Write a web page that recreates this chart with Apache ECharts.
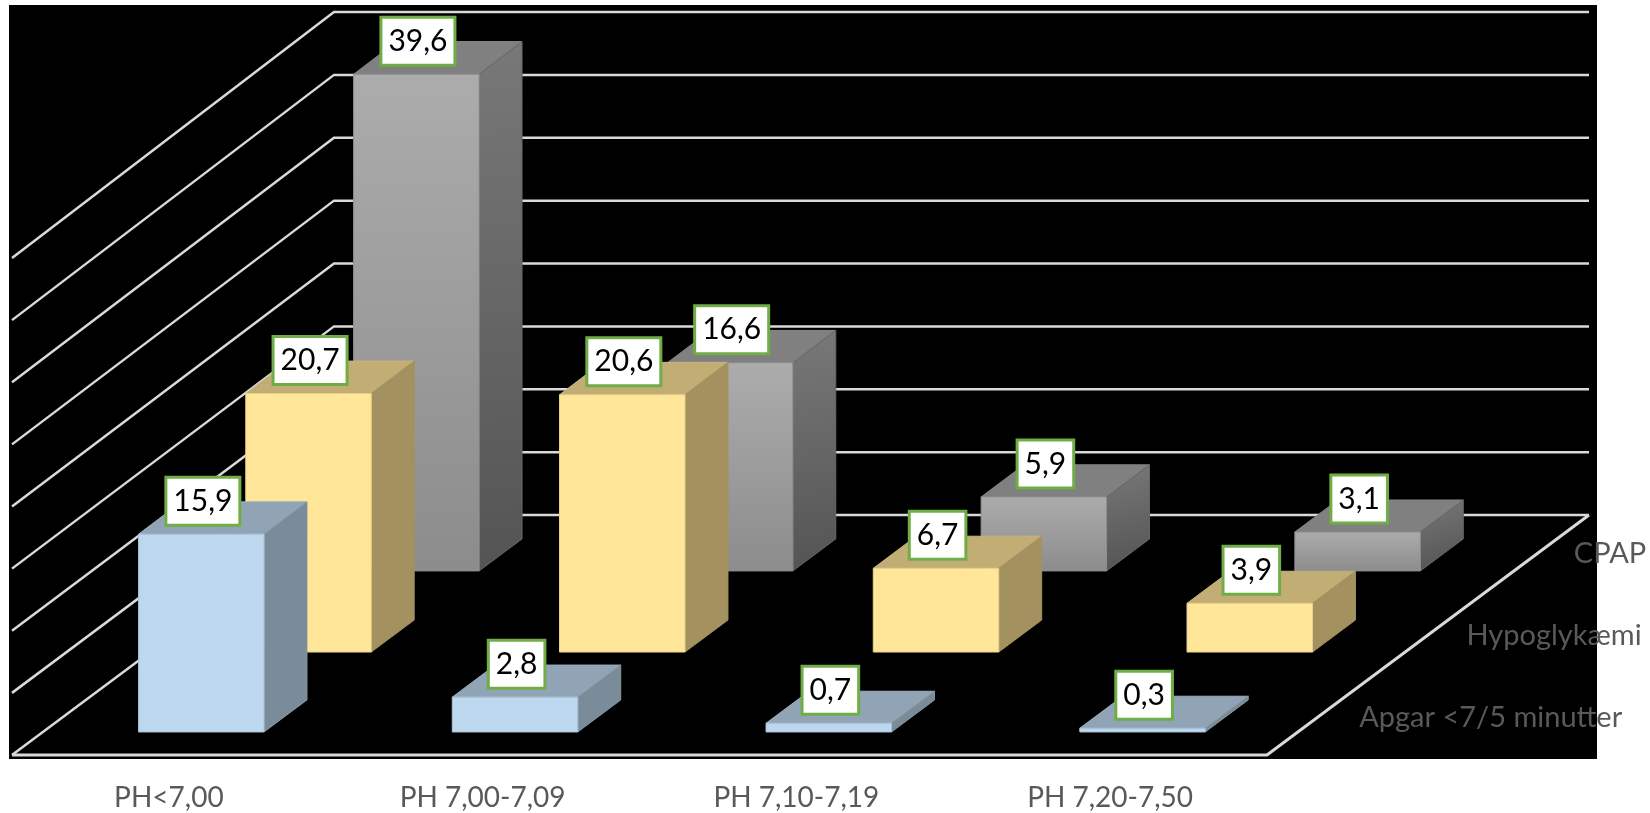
<!DOCTYPE html>
<html>
<head>
<meta charset="utf-8">
<style>html,body{margin:0;padding:0;background:#fff}#c{width:1650px;height:813px}</style>
<script src="https://cdn.jsdelivr.net/npm/echarts@6/dist/echarts.min.js"></script>
</head>
<body>
<div id="c"></div>
<script>
var categories = ['PH<7,00', 'PH 7,00-7,09', 'PH 7,10-7,19', 'PH 7,20-7,50'];
var depthNames = ['Apgar <7/5 minutter', 'Hypoglykæmi', 'CPAP'];
var apgar = [15.9, 2.8, 0.7, 0.3];
var hypoglykaemi = [20.7, 20.6, 6.7, 3.9];
var cpap = [39.6, 16.6, 5.9, 3.1];
var yTicks = [0, 5, 10, 15, 20, 25, 30, 35, 40];

var DX = 322, DY = 240, DYV = 0.15;
var ROW_FRONT = [0.096, 0.429, 0.767];
var ROW_NUDGE = [1.5, 1.5, 0.5];
var G = echarts.graphic;
var FONT = 'Lato';
function P(api, cat, frac, val, depth, nudge) {
  var c = api.coord([cat, val]);
  var band = api.size([1, 0])[0];
  return [c[0] + frac * band + depth * DX + (nudge || 0), c[1] - depth * (DY + val * DYV)];
}
function vGrad(a, b) { return new G.LinearGradient(0, 0, 0, 1, [{offset: 0, color: a}, {offset: 1, color: b}]); }
function dGrad(a, b) { return new G.LinearGradient(0, 0, 0.5, 1, [{offset: 0, color: a}, {offset: 1, color: b}]); }

function barSeries(name, values, row, look) {
  var d0 = ROW_FRONT[row], d1 = d0 + 0.4 / 3, n = ROW_NUDGE[row];
  return {
    type: 'custom', name: name, z: 3 + (2 - row),
    data: values.map(function (v, i) { return [i, v]; }),
    clip: false,
    renderItem: function (params, api) {
      var cat = api.value(0), v = api.value(1);
      var a = P(api, cat, -0.2, 0, d0, n), b = P(api, cat, 0.2, 0, d0, n),
          c = P(api, cat, 0.2, v, d0, n), e = P(api, cat, -0.2, v, d0, n),
          f = P(api, cat, 0.2, 0, d1, n), g = P(api, cat, 0.2, v, d1, n), h = P(api, cat, -0.2, v, d1, n);
      function poly(pts, fill, stroke) {
        return {type: 'polygon', shape: {points: pts}, style: {fill: fill, stroke: stroke, lineWidth: 1}};
      }
      return {type: 'group', children: [
        poly([e, c, g, h], look.top, look.topEdge),
        poly([b, f, g, c], look.side, look.sideEdge),
        poly([a, b, c, e], look.front, look.frontEdge)
      ]};
    }
  };
}

function labelSeries(values, row) {
  var d0 = ROW_FRONT[row], n = ROW_NUDGE[row];
  return {
    type: 'custom', z: 20, clip: false,
    data: values.map(function (v, i) { return [i, v]; }),
    renderItem: function (params, api) {
      var p = P(api, api.value(0), 0.005, api.value(1), d0, n);
      var txt = api.value(1).toFixed(1).replace('.', ',');
      return {type: 'text', x: p[0], y: p[1] - 33, style: {
        text: txt, fill: '#000', font: '30px ' + FONT, align: 'center', verticalAlign: 'middle',
        backgroundColor: '#fff', borderColor: '#70ad47', borderWidth: 3, padding: [8, 6, 7, 6]
      }};
    }
  };
}

var blueLook = {front: '#bdd7ee', frontEdge: '#a9c2d8', side: '#7a8b9a', sideEdge: '#86979f', top: '#91a4b5', topEdge: '#9aaebf'};
var yellowLook = {front: '#ffe699', frontEdge: '#e8d088', side: '#a3925f', sideEdge: '#a3925f', top: '#c2ae75', topEdge: '#c8b47c'};
var grayLook = {front: vGrad('#acacac', '#8c8c8c'), frontEdge: '#8f8f8f', side: dGrad('#787878', '#545454'), sideEdge: '#666', top: '#808080', topEdge: '#858585'};

var option = {
  animation: false,
  backgroundColor: '#fff',
  grid: {left: 12, top: 258, width: 1255, height: 497, containLabel: false},
  xAxis: {
    type: 'category', data: categories,
    axisLine: {show: false}, axisTick: {show: false},
    axisLabel: {color: '#595959', fontFamily: FONT, fontSize: 28, margin: 29, interval: 0}
  },
  yAxis: {type: 'value', min: 0, max: 40, interval: 5, axisLine: {show: false}, axisTick: {show: false}, axisLabel: {show: false}, splitLine: {show: false}},
  graphic: [{type: 'rect', z: -10, shape: {x: 9, y: 5, width: 1588, height: 754}, style: {fill: '#000'}}],
  series: [
    {
      type: 'custom', z: 2, clip: false, silent: true,
      data: yTicks.map(function (v) { return [0, v]; }),
      renderItem: function (params, api) {
        var v = api.value(1);
        var ch = [{type: 'polyline', shape: {points: [P(api, 0, -0.5, v, 0), P(api, 0, -0.5, v, 1), P(api, 3, 0.5, v, 1)]},
          style: {stroke: '#d9d9d9', lineWidth: 2.5, fill: null}}];
        if (v === 0) {
          ch.push({type: 'polyline', shape: {points: [P(api, 0, -0.5, 0, 0), P(api, 3, 0.5, 0, 0), P(api, 3, 0.5, 0, 1)]},
            style: {stroke: '#d9d9d9', lineWidth: 3, fill: null}});
        }
        return {type: 'group', children: ch};
      }
    },
    barSeries('CPAP', cpap, 2, grayLook),
    barSeries('Hypoglykæmi', hypoglykaemi, 1, yellowLook),
    barSeries('Apgar <7/5 minutter', apgar, 0, blueLook),
    labelSeries(cpap, 2),
    labelSeries(hypoglykaemi, 1),
    labelSeries(apgar, 0),
    {
      type: 'custom', z: 21, clip: false,
      data: depthNames.map(function (n, i) { return [3, 0, i]; }),
      renderItem: function (params, api) {
        var row = api.value(2);
        var p = P(api, 3, 0.5, 0, (row + 0.5) / 3);
        return {type: 'text', x: p[0] + 38.5, y: p[1] + 3 - 2 * row, style: {
          text: depthNames[row], fill: '#595959', font: '29px ' + FONT, align: 'left', verticalAlign: 'middle'
        }};
      }
    }
  ]
};
var chart = echarts.init(document.getElementById('c'), null, {renderer: 'canvas'});
chart.setOption(option);
</script>
</body>
</html>
